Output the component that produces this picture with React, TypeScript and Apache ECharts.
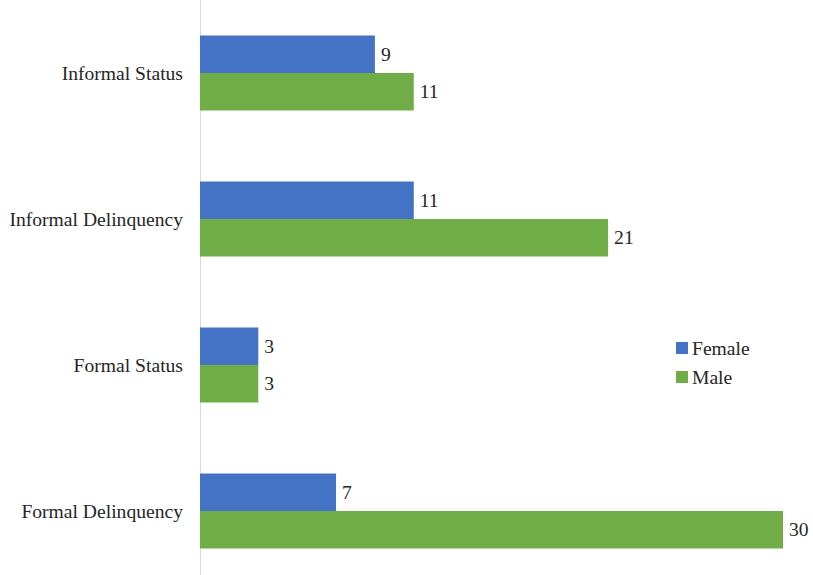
import React, { useEffect, useRef } from "react";
import * as echarts from "echarts";

const categories = ["Formal Delinquency", "Formal Status", "Informal Delinquency", "Informal Status"];
const femaleValues = [7, 3, 11, 9];
const maleValues = [30, 3, 21, 11];
const seriesNames = ["Female", "Male"];

export default function App() {
  const ref = useRef<HTMLDivElement>(null);
  useEffect(() => {
    if (!ref.current) return;
    const chart = echarts.init(ref.current, null, { renderer: "svg" });
    const font = "'Liberation Serif', 'Times New Roman', serif";
    const label = {
      show: true,
      position: "right" as const,
      distance: 6,
      fontFamily: font,
      fontSize: 19.6,
      color: "#262626",
    };
    chart.setOption({
      animation: false,
      backgroundColor: "#ffffff",
      textStyle: { fontFamily: font },
      grid: { left: 200, right: 30, top: 0, height: 584, outerBoundsMode: "none" },
      legend: {
        orient: "vertical",
        left: 676,
        top: 338,
        padding: 0,
        itemWidth: 12,
        itemHeight: 12,
        itemGap: 9,
        icon: "rect",
        textStyle: { fontFamily: font, fontSize: 19.6, color: "#262626", padding: [0, 0, 0, -1] },
        data: seriesNames,
      },
      xAxis: {
        type: "value",
        min: 0,
        max: 30,
        show: false,
      },
      yAxis: {
        type: "category",
        data: categories,
        axisTick: { show: false },
        axisLine: { show: true, lineStyle: { color: "#d9d9d9", width: 1 } },
        axisLabel: { fontFamily: font, fontSize: 19.6, color: "#262626", margin: 17 },
      },
      series: [
        {
          name: seriesNames[0],
          type: "bar",
          data: femaleValues,
          itemStyle: { color: "#4472C4" },
          barGap: "0%",
          barCategoryGap: "48.6%",
          label,
        },
        {
          name: seriesNames[1],
          type: "bar",
          data: maleValues,
          itemStyle: { color: "#70AD47" },
          barGap: "0%",
          barCategoryGap: "48.6%",
          label,
        },
      ],
    });
    return () => chart.dispose();
  }, []);
  return (
    <div
      ref={ref}
      style={{ position: "absolute", left: 0, top: 0, width: 813, height: 575 }}
    />
  );
}
